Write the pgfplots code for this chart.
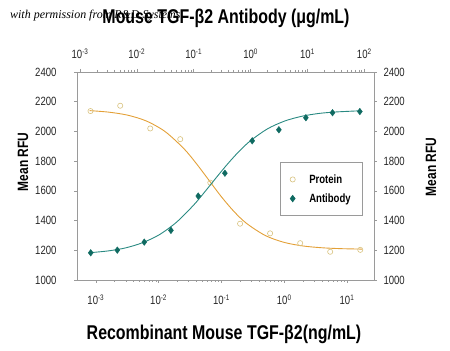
\documentclass[border=0pt]{standalone}
\usepackage{fontspec}
\setmainfont{Liberation Sans}[FakeStretch=0.8]
\newfontfamily\wmfont{Liberation Serif}
\usepackage{pgfplots}
\pgfplotsset{compat=1.18}
\definecolor{protline}{HTML}{E3A037}
\definecolor{protmark}{HTML}{D8C27E}
\definecolor{abline}{HTML}{2A8A82}
\definecolor{abmark}{HTML}{0F6A61}
\definecolor{axgray}{HTML}{9A9A9A}
\pgfplotsset{/pgf/number format/assume math mode=true}
\begin{document}
\begin{tikzpicture}
\useasboundingbox (0,0) rectangle (450bp,351bp);
% bottom axis: protein
\begin{axis}[xmode=log, scale only axis, width=297bp, height=208bp,
  at={(77bp,71bp)}, anchor=south west,
  ymin=1000, ymax=2400, ytick={1000,1200,...,2400},
  axis line style={axgray, line width=0.8pt},
  major tick style={axgray, line width=0.6pt},
  minor tick style={axgray, line width=0.5pt},
  tick align=outside, major tick length=3bp, minor tick length=2bp,
  tick label style={font=\fontsize{12}{13}\selectfont, text=black!85},
  yticklabel style={/pgf/number format/1000 sep={}},
  xmin=5.01e-4, xmax=26.9,
  xtick={1e-3,1e-2,1e-1,1,10},
  xticklabels={10\textsuperscript{-3},10\textsuperscript{-2},10\textsuperscript{-1},10\textsuperscript{0},10\textsuperscript{1}},
  xtick pos=bottom, xticklabel pos=bottom,
  ytick pos=left, yticklabel pos=left,
  xticklabel style={yshift=-8bp},
  yticklabel style={xshift=-14bp},
]
\addplot[protline, line width=0.9pt, smooth, forget plot] coordinates {
(0.000794,2140) (0.001585,2130) (0.003162,2110) (0.006310,2071) (0.012589,2000)
(0.025119,1885) (0.039811,1784) (0.063096,1672) (0.1,1560) (0.158489,1461)
(0.251189,1381) (0.501187,1299) (1,1253) (1.995262,1229) (3.981072,1217)
(7.943282,1211) (17.378,1208)};
\addplot[only marks, mark=o, mark size=2.6bp, protmark, line width=0.6pt] coordinates {
(0.000823,2137) (0.002443,2173) (0.007345,2020) (0.02208,1948) (0.06650,1655)
(0.1982,1379) (0.5958,1314) (1.795,1248) (5.395,1190) (16.26,1203)};
\end{axis}
% top axis: antibody
\begin{axis}[xmode=log, scale only axis, width=297bp, height=208bp,
  at={(77bp,71bp)}, anchor=south west,
  ymin=1000, ymax=2400, ytick={1000,1200,...,2400},
  axis line style={axgray, line width=0.8pt},
  major tick style={axgray, line width=0.6pt},
  minor tick style={axgray, line width=0.5pt},
  tick align=outside, major tick length=3bp, minor tick length=2bp,
  tick label style={font=\fontsize{12}{13}\selectfont, text=black!85},
  yticklabel style={/pgf/number format/1000 sep={}},
  xmin=8.85e-4, xmax=147.9,
  xtick={1e-3,1e-2,1e-1,1,10,100},
  xticklabels={10\textsuperscript{-3},10\textsuperscript{-2},10\textsuperscript{-1},10\textsuperscript{0},10\textsuperscript{1},10\textsuperscript{2}},
  xtick pos=top, xticklabel pos=top,
  ytick pos=right, yticklabel pos=right,
  xticklabel style={yshift=7bp},
  yticklabel style={xshift=3bp},
  legend style={at={(0.963,0.567)}, anchor=north east, draw=axgray, line width=0.6pt,
    font=\bfseries\fontsize{12}{13}\selectfont, inner xsep=10bp, inner ysep=10bp,
    row sep=5bp, column sep=12bp},
  legend cell align=left,
]
\addlegendimage{only marks, mark=o, mark size=2.6bp, protmark, line width=0.6pt}
\addlegendentry{Protein}
\addplot[abline, line width=0.9pt, smooth, forget plot] coordinates {
(0.001514,1184) (0.003162,1196) (0.006310,1216) (0.012589,1251) (0.025119,1306)
(0.050119,1390) (0.1,1505) (0.158489,1596) (0.251189,1691) (0.398107,1783)
(0.630957,1867) (1,1938) (1.995262,2018) (3.981072,2070) (7.943282,2102)
(15.848932,2121) (31.622777,2131) (85.113804,2139)};
\addplot[only marks, mark=diamond*, mark size=3.3bp, abmark, draw=abmark] coordinates {
(0.001542,1183) (0.004529,1201) (0.01349,1255) (0.03972,1334) (0.1199,1565)
(0.3532,1719) (1.067,1937) (3.141,2011) (9.376,2092) (27.61,2126) (83.37,2134)};
\addlegendentry{Antibody}
\end{axis}
\node[font=\bfseries\fontsize{20}{22}\selectfont, anchor=center] at (226bp,333bp) {Mouse TGF-β2 Antibody (μg/mL)};
\node[font=\wmfont\itshape\fontsize{12}{13}\selectfont, anchor=west, inner sep=0pt] at (10bp,335bp) {with permission from R\&D Systems};
\node[font=\bfseries\fontsize{20}{22}\selectfont, anchor=center] at (224bp,17bp) {Recombinant Mouse TGF-β2(ng/mL)};
\node[font=\bfseries\fontsize{15}{16}\selectfont, rotate=90, anchor=center] at (23bp,189bp) {Mean RFU};
\node[font=\bfseries\fontsize{15}{16}\selectfont, rotate=90, anchor=center] at (431bp,184bp) {Mean RFU};
\end{tikzpicture}
\end{document}
